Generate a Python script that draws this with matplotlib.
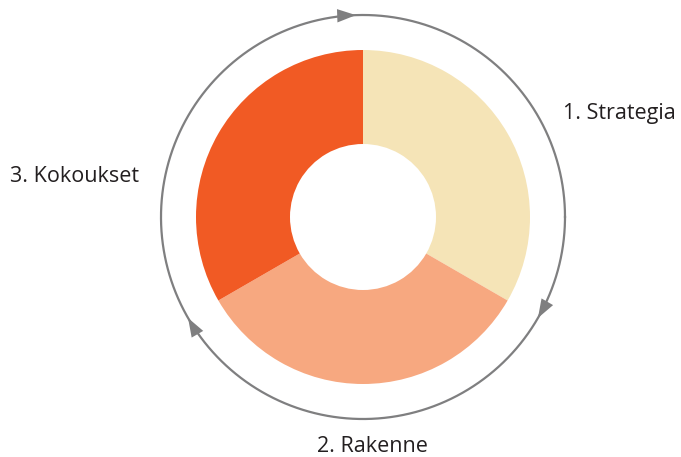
import numpy as np
import matplotlib.pyplot as plt

labels = ["1. Strategia", "2. Rakenne", "3. Kokoukset"]
shares = [1, 1, 1]
colors = ["#F5E4B7", "#F7A880", "#F15A24"]
arrow_angles = [92, -30, 210]

fig = plt.figure(figsize=(6.81, 4.57), dpi=100)
ax = fig.add_axes([0, 0, 1, 1])

cx, cy = 363, 457 - 217
ax.pie(shares, colors=colors, startangle=90, counterclock=False,
       radius=167, center=(cx, cy),
       wedgeprops=dict(width=94, linewidth=0))

# outer cycle ring
R = 202
t = np.linspace(0, 2 * np.pi, 400)
ax.plot(cx + R * np.cos(t), cy + R * np.sin(t), color="#7F7F80", lw=1.6)

for a in arrow_angles:
	th = np.radians(a)
	tip = (cx + R * np.cos(th), cy + R * np.sin(th))
	d = np.array([np.sin(th), -np.cos(th)])  # clockwise direction
	tail = (tip[0] - 12 * d[0], tip[1] - 12 * d[1])
	ax.annotate("", xy=tip, xytext=tail,
		arrowprops=dict(arrowstyle="-|>,head_length=0.9,head_width=0.32",
			color="#7F7F80", lw=0, mutation_scale=15, shrinkA=0, shrinkB=0))

font = dict(family=["Open Sans", "DejaVu Sans"], fontsize=15.5, color="#231F20")
ax.text(563, 457 - 113, labels[0], ha="left", va="center", **font)
ax.text(372, 457 - 447, labels[1], ha="center", va="center", **font)
ax.text(10, 457 - 176, labels[2], ha="left", va="center", **font)

ax.set_xlim(0, 681)
ax.set_ylim(0, 457)
ax.set_aspect("auto")
ax.axis("off")
fig.savefig("out.png", dpi=100)
